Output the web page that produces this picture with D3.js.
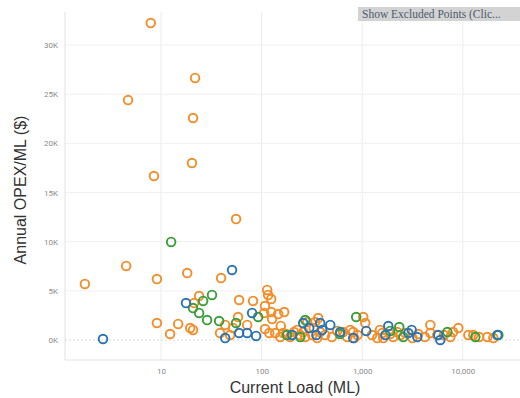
<!DOCTYPE html>
<html>
<head>
<meta charset="utf-8">
<script src="https://cdn.jsdelivr.net/npm/d3@7"></script>
<style>
  body { margin: 0; background: #fff; }
  svg { display: block; }
</style>
</head>
<body>
<script>
// load (ML), opex per ML ($)
let orangeLoad = [7.9, 21.8, 4.7, 20.8, 20.3, 8.5, 55.7, 4.5, 9.1, 18.2, 39.5, 1.75, 9.1, 12.3, 14.8, 19.5, 20.8, 23.9, 21.3, 59.7,
  82.2, 43.4, 58.3, 71.8, 38.6, 48.6, 52.0, 113.5, 116, 124.5, 108, 106, 124.5, 146, 167.5, 127, 108, 119, 136, 153,
  164, 192, 225, 242, 271, 284, 340, 365, 382, 428, 318, 356, 564, 647, 709, 1023, 1072, 813, 832, 1409,
  1581, 1618, 2033, 2229, 2679, 3148, 4753, 4753, 7516, 9016, 11350, 12710, 17540, 20110, 5572, 259,
  175, 210, 330, 500, 760, 900, 1250, 1500, 1900, 2400, 3600, 4200, 6500, 8000, 14500, 155];
let orangeOpex = [32240, 26650, 24400, 22580, 18000, 16680, 12300, 7530, 6200, 6810, 6300, 5700, 1730, 610, 1630, 1220, 1020, 4470, 3760, 4070,
  3970, 1530, 2340, 1530, 710, 510, 1220, 5090, 4580, 4170, 3460, 2750, 2850, 2640, 2850, 2140, 1120, 710, 710, 305,
  710, 305, 1020, 510, 305, 1830, 1830, 2240, 810, 510, 510, 200, 920, 810, 305, 2340, 1730, 810, 200, 200,
  710, 200, 305, 810, 710, 200, 1530, 710, 305, 1220, 510, 510, 305, 200, 510, 810,
  610, 810, 1220, 305, 1020, 510, 510, 1020, 610, 510, 610, 305, 510, 810, 305, 1430];

let greenLoad = [12.6, 32.1, 26.2, 20.8, 23.9, 28.7, 37.8, 55.7, 92.3, 179, 271, 242, 871, 2334, 2559, 7015, 13310, 22540, 600, 1900];
let greenOpex = [9970, 4580, 3970, 3250, 2750, 2030, 1930, 1730, 2340, 510, 2030, 305, 2340, 1320, 305, 810, 305, 510, 610, 920];

let blueLoad = [2.65, 50.8, 17.7, 80.4, 43.4, 59.7, 71.8, 88.1, 201, 259, 297, 382, 400, 481, 604, 813, 1096, 1816, 2871, 3524, 5702, 5970, 22030, 350, 1700, 3100];
let blueOpex = [100, 7120, 3760, 2750, 200, 710, 710, 410, 510, 1730, 1220, 1730, 1020, 1530, 810, 200, 920, 1420, 710, 305, 510, 0, 510, 510, 510, 1020];

let xTicks = [10, 100, 1000, 10000];
let yTicks = [0, 5000, 10000, 15000, 20000, 25000, 30000];

let width = 520, height = 398;
let plotLeft = 65, plotTop = 12, plotRight = 520, plotBottom = 360;

let svg = d3.select("body").append("svg")
  .attr("width", width).attr("height", height);

let xScale = d3.scaleLog().domain([1.11, 37000]).range([plotLeft, plotRight]);
let yScale = d3.scaleLinear().domain([-2034, 33360]).range([plotBottom, plotTop]);

// grid
svg.append("g").selectAll("line").data(xTicks).enter().append("line")
  .attr("x1", d => xScale(d)).attr("x2", d => xScale(d))
  .attr("y1", plotTop).attr("y2", plotBottom)
  .attr("stroke", "#ececec");
svg.append("g").selectAll("line").data(yTicks).enter().append("line")
  .attr("x1", plotLeft).attr("x2", plotRight)
  .attr("y1", d => yScale(d)).attr("y2", d => yScale(d))
  .attr("stroke", d => d == 0 ? "#d8d8d8" : "#f0f0f0")
  .attr("stroke-dasharray", d => d == 0 ? "2,2" : null);

svg.append("line").attr("x1", plotLeft).attr("x2", plotLeft).attr("y1", plotTop).attr("y2", plotBottom).attr("stroke", "#e2e2e2");
svg.append("line").attr("x1", plotLeft).attr("x2", plotRight).attr("y1", plotBottom).attr("y2", plotBottom).attr("stroke", "#e2e2e2");

// axes
let xAxis = d3.axisBottom(xScale).tickValues(xTicks).tickSize(0).tickPadding(8).tickFormat(d3.format(","));
let yAxis = d3.axisLeft(yScale).tickValues(yTicks).tickSize(0).tickPadding(6).tickFormat(d => (d / 1000) + "K");

let gx = svg.append("g").attr("transform", "translate(0," + plotBottom + ")").call(xAxis);
let gy = svg.append("g").attr("transform", "translate(" + (plotLeft - 1) + ",0)").call(yAxis);
[gx, gy].forEach(g => {
  g.select(".domain").remove();
  g.selectAll("text").attr("fill", "#8a8a8a").style("font-family", "Roboto, sans-serif").style("font-size", "8px");
});

// points
function dots(load, opex, color) {
  svg.append("g").selectAll("circle").data(load).enter().append("circle")
    .attr("cx", (d) => xScale(d))
    .attr("cy", (d, i) => yScale(opex[i]))
    .attr("r", 4.3)
    .attr("fill", "none")
    .attr("stroke", color)
    .attr("stroke-width", 1.9);
}
dots(orangeLoad, orangeOpex, "#f28e2b");
dots(greenLoad, greenOpex, "#3a9e3a");
dots(blueLoad, blueOpex, "#2b74b3");

// titles
let titleFont = "'Liberation Sans Narrow', 'Arial Narrow', 'Liberation Sans', sans-serif";
svg.append("text").attr("x", 295).attr("y", 393).attr("text-anchor", "middle")
  .style("font-family", titleFont).style("font-size", "16px").attr("fill", "#333")
  .text("Current Load (ML)");
svg.append("text").attr("transform", "translate(26,190) rotate(-90)").attr("text-anchor", "middle")
  .style("font-family", titleFont).style("font-size", "16px").attr("fill", "#333")
  .text("Annual OPEX/ML ($)");

// button
svg.append("rect").attr("x", 358).attr("y", 7).attr("width", 162).attr("height", 14).attr("fill", "#d3d3d3");
svg.append("text").attr("x", 362).attr("y", 18)
  .style("font-family", "'Liberation Serif', serif").style("font-size", "11.5px").attr("fill", "#4d5b6e")
  .text("Show Excluded Points (Clic...");
</script>
</body>
</html>
